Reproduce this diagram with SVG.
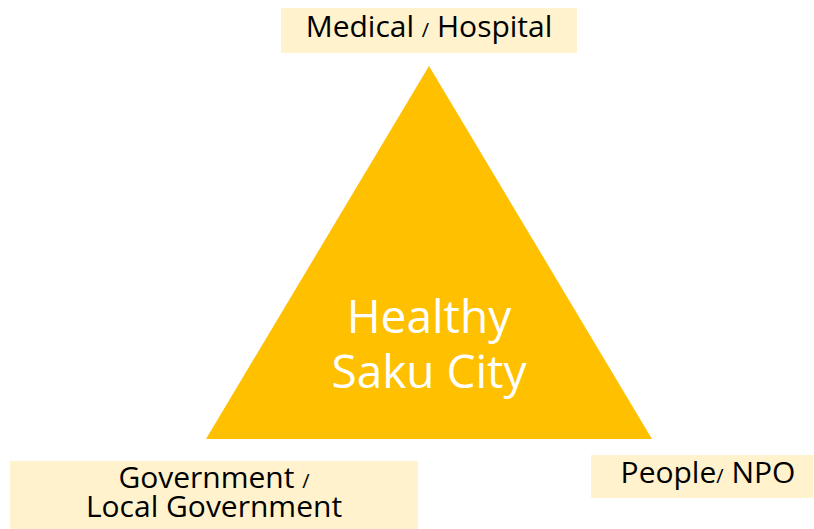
<svg xmlns="http://www.w3.org/2000/svg" width="814" height="529" viewBox="0 0 814 529">
<style>
.box{fill:#FFF2CC;}
.lbl{font-family:"Open Sans","Noto Sans",sans-serif;font-size:30px;fill:#000;text-anchor:middle;}
.sl{font-size:20px;}
.ctr{font-family:"Open Sans","Noto Sans",sans-serif;font-size:46px;fill:#fff;text-anchor:middle;}
</style>
<rect width="814" height="529" fill="#fff"/>
<g id="triangle">
<polygon points="429,66 206,439 652,439" fill="#FFC000"/>
<text class="ctr" x="429" y="333">Healthy</text>
<text class="ctr" x="429" y="388">Saku City</text>
</g>
<g id="medical">
<rect class="box" x="281" y="8" width="296" height="45"/>
<text class="lbl" x="429" y="37">Medical <tspan class="sl">/</tspan> Hospital</text>
</g>
<g id="government">
<rect class="box" x="10" y="461" width="408" height="68"/>
<text class="lbl" x="214" y="488">Government <tspan class="sl">/</tspan></text>
<text class="lbl" x="214" y="517">Local Government</text>
</g>
<g id="people">
<rect class="box" x="591" y="455" width="222" height="43"/>
<text class="lbl" x="708" y="483">People<tspan class="sl">/</tspan> NPO</text>
</g>
<g id="connectors"></g>
</svg>
